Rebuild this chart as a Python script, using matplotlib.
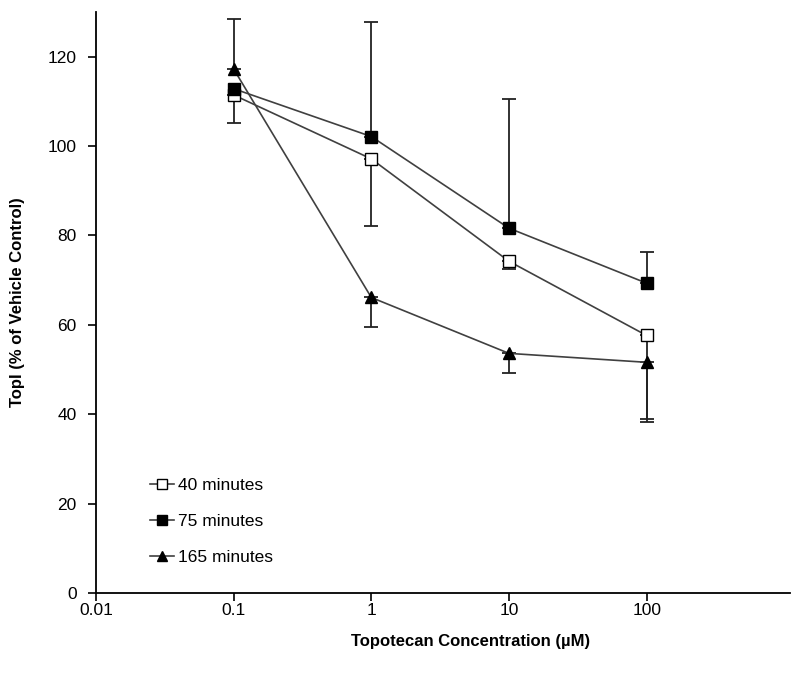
import numpy as np
import matplotlib.pyplot as plt
from matplotlib.ticker import FixedLocator, FixedFormatter, NullLocator

plt.rcParams['font.family'] = ['Liberation Sans', 'DejaVu Sans']

# Topotecan concentration (uM)
conc = [0.1, 1, 10, 100]

# TopI as % of vehicle control
y40 = [111.4, 97.1, 74.2, 57.6]
y75 = [112.8, 102.1, 81.6, 69.3]
y165 = [117.2, 66.1, 53.6, 51.6]

# one-sided error bars (lower, upper)
err40_lo = [6.2, 15.0, 1.8, 18.6]
err40_hi = [0, 0, 0, 0]
err75_lo = [0, 0, 0, 0]
err75_hi = [0, 25.6, 28.8, 6.9]
err165_lo = [0, 6.7, 4.3, 13.4]
err165_hi = [11.1, 0, 0, 0]

xticks = [0.01, 0.1, 1, 10, 100]
xticklabels = ['0.01', '0.1', '1', '10', '100']
yticks = [0, 20, 40, 60, 80, 100, 120]

fig = plt.figure(figsize=(8, 6.94), dpi=100)
ax = fig.add_axes([0.12, 0.1455, 0.8675, 0.8375])

line_col = '#404040'
series = [
    (y40, err40_lo, err40_hi, 's', 'white', '40 minutes'),
    (y75, err75_lo, err75_hi, 's', 'black', '75 minutes'),
    (y165, err165_lo, err165_hi, '^', 'black', '165 minutes'),
]
handles = []
for y, lo, hi, mk, fc, lab in series:
    # error bars first, only where they are non-zero
    lo = np.array(lo)
    hi = np.array(hi)
    mask = (lo > 0) | (hi > 0)
    ax.errorbar(np.array(conc)[mask], np.array(y)[mask],
                yerr=[lo[mask], hi[mask]], fmt='none', ecolor='#222222',
                elinewidth=1.3, capsize=5, capthick=1.3, zorder=2)
    h, = ax.plot(conc, y, color=line_col, lw=1.2, marker=mk, markersize=8,
                 markerfacecolor=fc, markeredgecolor='black',
                 markeredgewidth=1, label=lab, zorder=3)
    handles.append(h)

ax.set_xscale('log')
ax.set_xlim(0.01, 1100)
ax.set_ylim(0, 130)
ax.xaxis.set_major_locator(FixedLocator(xticks))
ax.xaxis.set_major_formatter(FixedFormatter(xticklabels))
ax.xaxis.set_minor_locator(NullLocator())
ax.set_yticks(yticks)

for s in ['top', 'right']:
    ax.spines[s].set_visible(False)
for s in ['left', 'bottom']:
    ax.spines[s].set_linewidth(1.3)

ax.tick_params(axis='both', direction='out', length=6, width=1.2,
               labelsize=12.5, colors='black')
ax.tick_params(axis='x', pad=1)
ax.tick_params(axis='y', pad=8)

ax.set_xlabel('Topotecan Concentration (\u00b5M)', fontsize=12,
              fontweight='bold')
ax.xaxis.set_label_coords(0.539, -0.07)
ax.set_ylabel('TopI (% of Vehicle Control)', fontsize=12,
              fontweight='bold', labelpad=16)

ax.legend(handles=handles, loc='upper left', bbox_to_anchor=(0.055, 0.225),
          frameon=False, fontsize=12.5, handlelength=1.4, handletextpad=0.2,
          labelspacing=1.2, markerscale=0.85)

plt.savefig('out.png', dpi=100)
